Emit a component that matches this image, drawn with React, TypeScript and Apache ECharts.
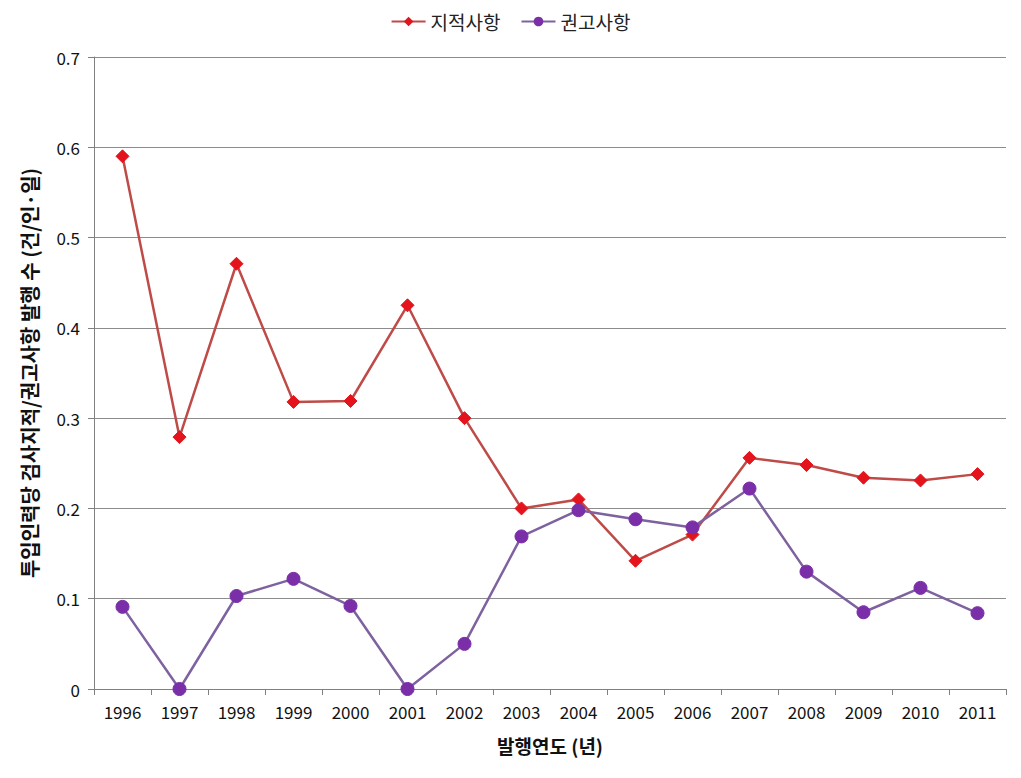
import React, { useEffect, useRef } from "react";
import * as echarts from "echarts";

const years = ["1996","1997","1998","1999","2000","2001","2002","2003","2004","2005","2006","2007","2008","2009","2010","2011"];
const jijeok = [0.590, 0.279, 0.471, 0.318, 0.319, 0.425, 0.300, 0.200, 0.210, 0.142, 0.171, 0.256, 0.248, 0.234, 0.231, 0.238];
const gwongo = [0.091, 0, 0.103, 0.122, 0.092, 0, 0.050, 0.169, 0.198, 0.188, 0.179, 0.222, 0.130, 0.085, 0.112, 0.084];
const seriesNames = ["지적사항", "권고사항"];

const FONT = "'Noto Sans CJK KR', 'Noto Sans', sans-serif";

export default function App() {
  const ref = useRef<HTMLDivElement>(null);
  useEffect(() => {
    const chart = echarts.init(ref.current!, null, { renderer: "svg" });
    chart.setOption({
      animation: false,
      backgroundColor: "#fff",
      textStyle: { fontFamily: FONT },
      legend: {
        top: 7,
        left: "center",
        itemWidth: 34,
        itemHeight: 12,
        itemGap: 20,
        textStyle: { fontSize: 19, color: "#222", fontFamily: FONT },
        data: seriesNames,
      },
      grid: { left: 94, right: 15, top: 57, bottom: 89, containLabel: false },
      xAxis: {
        type: "category",
        data: years,
        boundaryGap: true,
        axisLine: { lineStyle: { color: "#808080", width: 1 } },
        axisTick: { show: true, length: 6, lineStyle: { color: "#808080" } },
        axisLabel: { fontSize: 17, color: "#111", margin: 14, fontFamily: FONT },
        name: "발행연도 (년)",
        nameLocation: "middle",
        nameGap: 47,
        nameTextStyle: { fontSize: 19, fontWeight: "bold", color: "#111", fontFamily: FONT },
      },
      yAxis: {
        type: "value",
        min: 0,
        max: 0.7,
        interval: 0.1,
        axisLine: { show: true, lineStyle: { color: "#808080", width: 1 } },
        axisTick: { show: true, length: 6, lineStyle: { color: "#808080" } },
        axisLabel: {
          fontSize: 17, color: "#111", margin: 14, fontFamily: FONT,
          formatter: (v: number) => (v === 0 ? "0" : v.toFixed(1)),
        },
        splitLine: { show: true, lineStyle: { color: "#8c8c8c", width: 1 } },
        name: "투입인력당 검사지적/권고사항 발행 수 (건/인·일)",
        nameLocation: "middle",
        nameGap: 55,
        nameTextStyle: { fontSize: 20, fontWeight: "bold", color: "#111", fontFamily: FONT },
      },
      series: [
        {
          name: seriesNames[0],
          type: "line",
          data: jijeok,
          symbol: "diamond",
          symbolSize: 13,
          lineStyle: { color: "#BE4B48", width: 2.5 },
          itemStyle: { color: "#E3141C", borderColor: "#E3141C" },
        },
        {
          name: seriesNames[1],
          type: "line",
          data: gwongo,
          symbol: "circle",
          symbolSize: 13,
          lineStyle: { color: "#7E62A0", width: 2.5 },
          itemStyle: { color: "#7A2FA8", borderColor: "#7A2FA8" },
        },
      ],
    });
    return () => chart.dispose();
  }, []);
  return <div ref={ref} style={{ width: 1021, height: 778, position: "absolute", left: 0, top: 0 }} />;
}
